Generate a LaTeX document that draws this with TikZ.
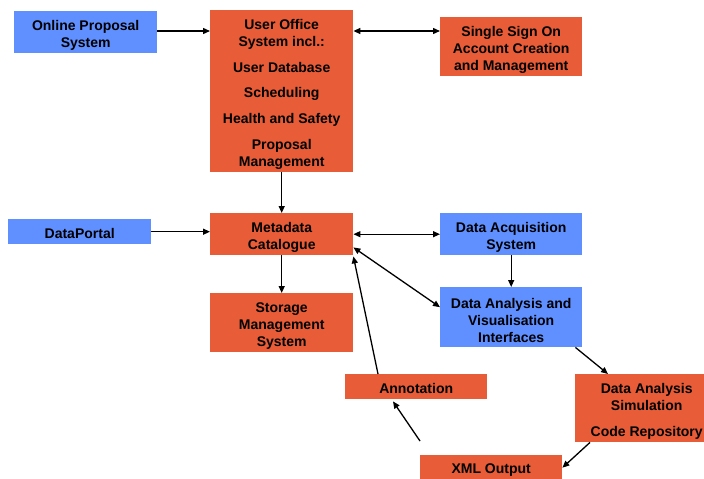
\documentclass[tikz,border=0pt]{standalone}
\usepackage{fontspec}
\setmainfont{Liberation Sans}
\usetikzlibrary{arrows.meta}
\definecolor{boxorange}{RGB}{232,92,56}
\definecolor{boxblue}{RGB}{96,144,255}
\newcommand\boxtop{\rule{0pt}{16pt}}
\tikzset{
  unit/.style={anchor=north west, inner sep=0pt, align=center,
               font=\fontsize{14}{17}\selectfont\bfseries},
  orangebox/.style={unit, fill=boxorange},
  bluebox/.style={unit, fill=boxblue},
  link/.style={line width=1.3pt, -{Triangle[length=7pt,width=6pt]}},
  duallink/.style={line width=1.3pt, {Triangle[length=7pt,width=6pt]}-{Triangle[length=7pt,width=6pt]}}
}
\begin{document}
\begin{tikzpicture}[x=1pt, y=-1pt]
        \useasboundingbox (0,0) rectangle (704,479);
        \node [bluebox, minimum width=143pt, minimum height=42pt]   (ops)   at (14,11)  {\boxtop Online Proposal\\System};   %
        \node [orangebox, minimum width=143pt, minimum height=162pt] (uos)  at (210,10) {\boxtop User Office\\System incl.:\\[9pt]User Database\\[8pt]Scheduling\\[9pt]Health and Safety\\[9pt]Proposal\\Management};
        \node [orangebox, minimum width=142pt, minimum height=59pt] (sso)   at (440,17) {\boxtop Single Sign On\\Account Creation\\and Management};
        \node [bluebox, minimum width=143pt, minimum height=25pt]   (dp)    at (8,219)  {\rule{0pt}{14pt}DataPortal};        %
        \node [orangebox, minimum width=143pt, minimum height=42pt] (meta)  at (210,213) {\boxtop Metadata\\Catalogue};     %
        \node [bluebox, minimum width=142pt, minimum height=42pt]   (das)   at (440,213) {\boxtop Data Acquisition\\System}; %
        \node [orangebox, minimum width=143pt, minimum height=59pt] (sms)   at (210,293) {\boxtop Storage\\Management\\System};
        \node [bluebox, minimum width=142pt, minimum height=60pt]   (davi)  at (440,287) {\boxtop Data Analysis and\\Visualisation\\Interfaces};
        \node [orangebox, minimum width=142pt, minimum height=25pt] (annot) at (345,374) {\rule{0pt}{14pt}Annotation};      %
        \node [orangebox, minimum width=143pt, minimum height=68pt] (dasim) at (575,374) {\boxtop Data Analysis\\Simulation\\[9pt]Code Repository};
        \node [orangebox, minimum width=142pt, minimum height=25pt] (xml)   at (420,455) {\rule{0pt}{14pt}XML Output};      %
        \coordinate (xmltail) at (420,441);                                                                                 %
        \draw [link]     (ops.east |- 0,31) -- (uos.west |- 0,31);                                                          %
        \draw [duallink] (uos.east |- 0,31) -- (sso.west |- 0,31);                                                          %
        \draw [link]     (uos.south) -- (meta.north);                                                                       %
        \draw [link]     (dp.east) -- (meta.west |- dp.east);                                                               %
        \draw [duallink] (meta.east) -- (das.west);                                                                         %
        \draw [link]     (meta.south) -- (sms.north);                                                                       %
        \draw [link]     (das.south) -- (davi.north);                                                                       %
        \draw [duallink] ([yshift=8pt]meta.south east) -- ([yshift=10pt]davi.west);                                         %
        \draw [link]     ([xshift=-7pt]davi.south east) -- ([xshift=33pt]dasim.north west);                                 %
        \draw [link]     ([xshift=15pt]dasim.south west) -- (xml.east);                                                     %
        \draw [link]     (xmltail) -- ([xshift=48pt, yshift=-2pt]annot.south west);                                         %
        \draw [link]     ([xshift=33pt]annot.north west) -- ([yshift=-1pt]meta.south east);                                 %
\end{tikzpicture}
\end{document}
